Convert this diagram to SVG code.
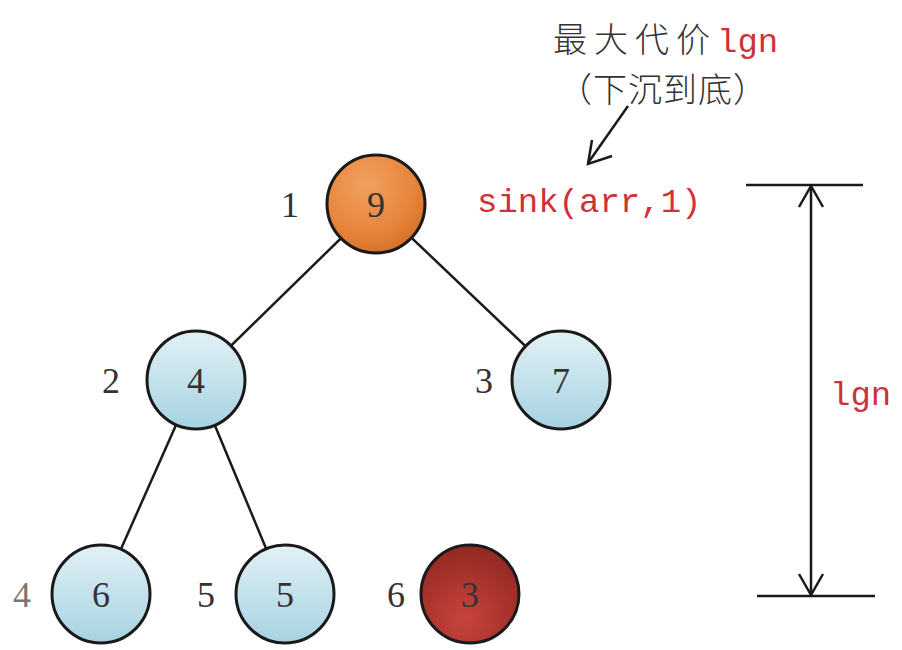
<svg xmlns="http://www.w3.org/2000/svg" width="902" height="650" viewBox="0 0 902 650">
<style>
.edge{stroke:#1a1a1a;stroke-width:2.5;fill:none}
.node{stroke:#1a1a1a;stroke-width:3}
.val{font-family:"Liberation Serif",serif;font-size:36px;fill:#333;text-anchor:middle}
.idx{font-family:"Liberation Serif",serif;font-size:36px;fill:#333;text-anchor:middle}
.red{fill:#d0303a}
.mono{font-family:"Liberation Mono",monospace;font-size:34px}
.cjk{font-family:"Noto Sans CJK SC",sans-serif;font-size:34px;fill:#333;font-weight:300}
.dim{stroke:#1a1a1a;stroke-width:2.5;fill:none}
</style>
<defs>
<radialGradient id="gOrange" cx="0.4" cy="0.3" r="0.8">
<stop offset="0" stop-color="#f0a060"/>
<stop offset="0.6" stop-color="#e8853c"/>
<stop offset="1" stop-color="#d06a22"/>
</radialGradient>
<linearGradient id="gBlue" x1="0" y1="0" x2="0" y2="1">
<stop offset="0" stop-color="#e2f1f6"/>
<stop offset="1" stop-color="#a6d2e1"/>
</linearGradient>
<radialGradient id="gRed" cx="0.45" cy="0.75" r="0.8">
<stop offset="0" stop-color="#c8443c"/>
<stop offset="1" stop-color="#8e2620"/>
</radialGradient>
</defs>
<rect width="902" height="650" fill="#ffffff"/>
<g id="connectors">
<line class="edge" x1="376" y1="204" x2="196" y2="380"/>
<line class="edge" x1="376" y1="204" x2="561" y2="380"/>
<line class="edge" x1="196" y1="380" x2="101" y2="594"/>
<line class="edge" x1="196" y1="380" x2="285" y2="594"/>
<line class="edge" x1="628" y1="106" x2="588" y2="163"/>
<polyline class="edge" points="592,140 588,164 612,156"/>
</g>
<g id="node1">
<circle class="node" cx="376" cy="204" r="49" fill="url(#gOrange)"/>
<text class="val" x="376" y="217">9</text>
<text class="idx" x="290" y="217">1</text>
</g>
<g id="node2">
<circle class="node" cx="196" cy="380" r="49" fill="url(#gBlue)"/>
<text class="val" x="196" y="393">4</text>
<text class="idx" x="111" y="393">2</text>
</g>
<g id="node3">
<circle class="node" cx="561" cy="380" r="49" fill="url(#gBlue)"/>
<text class="val" x="561" y="393">7</text>
<text class="idx" x="484" y="393">3</text>
</g>
<g id="node4">
<circle class="node" cx="101" cy="594" r="49" fill="url(#gBlue)"/>
<text class="val" x="101" y="607">6</text>
<text class="idx" x="22" y="607" style="fill:#777">4</text>
</g>
<g id="node5">
<circle class="node" cx="285" cy="594" r="49" fill="url(#gBlue)"/>
<text class="val" x="285" y="607">5</text>
<text class="idx" x="206" y="607">5</text>
</g>
<g id="node6">
<circle class="node" cx="470" cy="594" r="49" fill="url(#gRed)"/>
<text class="val" x="470" y="607">3</text>
<text class="idx" x="396" y="607">6</text>
</g>
<g id="annotation">
<text x="553" y="52"><tspan class="cjk" letter-spacing="7">最大代价</tspan><tspan class="mono red">lgn</tspan></text>
<text class="cjk" x="558" y="102" letter-spacing="1">（下沉到底）</text>
<text class="mono red" x="477" y="212">sink(arr,1)</text>
</g>
<g id="dimension">
<line class="dim" x1="746" y1="185" x2="863" y2="185"/>
<line class="dim" x1="757" y1="596" x2="875" y2="596"/>
<line class="dim" x1="811" y1="185" x2="811" y2="596"/>
<polyline class="dim" points="799,207 811,186 823,207"/>
<polyline class="dim" points="799,574 811,595 823,574"/>
<text class="mono red" x="830" y="405" font-size="33">lgn</text>
</g>
</svg>
